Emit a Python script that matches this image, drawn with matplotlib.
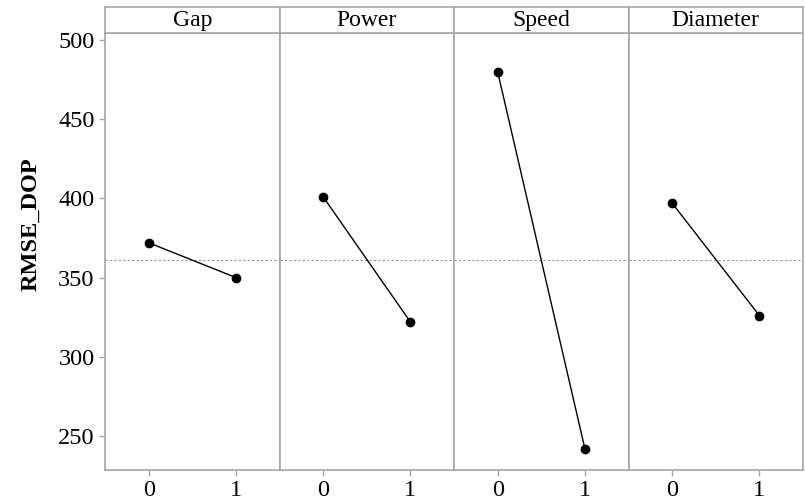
import matplotlib.pyplot as plt
import numpy as np

plt.rcParams['font.family'] = ['Liberation Serif', 'DejaVu Serif']

factors = ["Gap", "Power", "Speed", "Diameter"]
levels = [0, 1]
means = {
    "Gap": [372, 350],
    "Power": [401, 322],
    "Speed": [480, 242],
    "Diameter": [397, 326],
}
grand_mean = 361
yticks = [250, 300, 350, 400, 450, 500]

gris = "#a6a6a6"
W, H = 805, 503
fig = plt.figure(figsize=(W / 100, H / 100), dpi=100)

x0, x1 = 105, 803
ybot, ytop, ystrip = 470, 33, 7
ancho = (x1 - x0) / len(factors)

for i, f in enumerate(factors):
    left = (x0 + i * ancho) / W
    ax = fig.add_axes([left, 1 - ybot / H, ancho / W, (ybot - ytop) / H])
    ax.axhline(grand_mean, color="#9a9a9a", lw=0.8, ls=(0, (2, 2)), zorder=1)
    ax.plot(levels, means[f], color="black", lw=1, marker="o", ms=6, zorder=3)
    ax.set_xlim(-0.5, 1.5)
    ax.set_ylim(228.5, 504.4)
    ax.set_xticks(levels)
    ax.set_xticklabels([str(l) for l in levels], fontsize=17.5)
    for s in ax.spines.values():
        s.set_color(gris)
        s.set_linewidth(1.2)
    ax.tick_params(axis="both", colors=gris, labelcolor="black", length=4, width=1, direction="out")
    ax.tick_params(axis="x", pad=3)
    if i == 0:
        ax.set_yticks(yticks)
        ax.set_yticklabels([str(v) for v in yticks], fontsize=17.5)
        ax.set_ylabel("RMSE_DOP", fontsize=17.5, fontweight="bold")
        # el rótulo queda algo por encima del centro del eje
        ax.yaxis.set_label_coords(-0.365, 0.563)
    else:
        ax.set_yticks([])

    # cabecera con el nombre del factor
    st = fig.add_axes([left, 1 - ytop / H, ancho / W, (ytop - ystrip) / H])
    st.set_xticks([])
    st.set_yticks([])
    for s in st.spines.values():
        s.set_color(gris)
        s.set_linewidth(1.2)
    st.text(0.5, 0.5, f, ha="center", va="center", fontsize=17, transform=st.transAxes)

fig.savefig("out.png", dpi=100)
